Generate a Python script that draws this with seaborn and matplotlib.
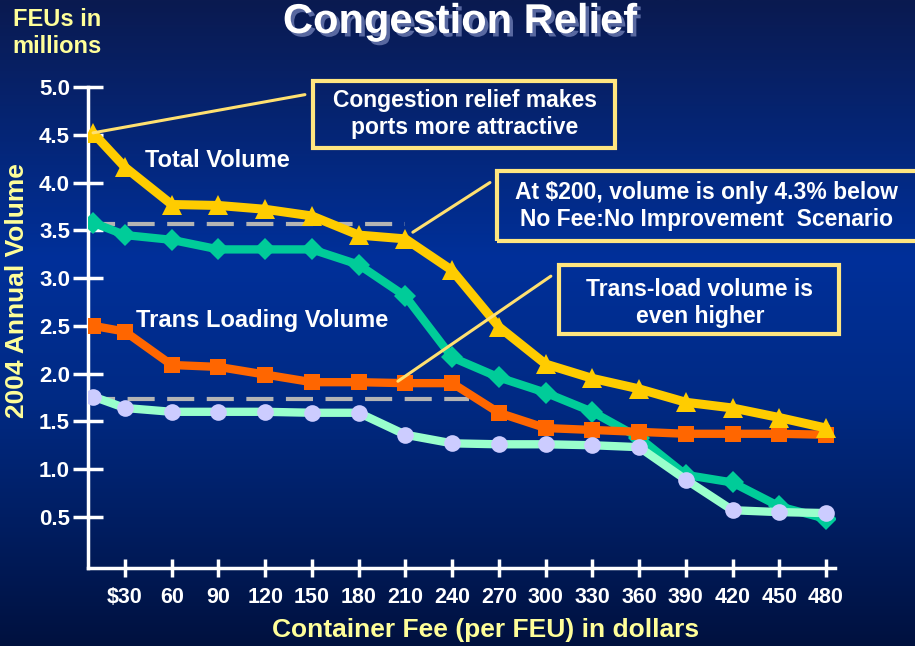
import numpy as np
import pandas as pd
import matplotlib
matplotlib.use("Agg")
import matplotlib.pyplot as plt
import seaborn as sns
from matplotlib.colors import LinearSegmentedColormap
from matplotlib.patches import Rectangle
import matplotlib.patheffects as pe

# ---------------- data ----------------
fees = [9.5, 30, 60, 90, 120, 150, 180, 210, 240, 270, 300, 330, 360, 390, 420, 450, 480]
total_volume = [4.52, 4.16, 3.77, 3.76, 3.72, 3.65, 3.45, 3.41, 3.08, 2.49, 2.10, 1.95, 1.84,
                1.70, 1.64, 1.54, 1.43]
total_no_improve = [3.58, 3.45, 3.40, 3.30, 3.30, 3.30, 3.14, 2.81, 2.17, 1.96, 1.80, 1.60, 1.33,
                    0.94, 0.86, 0.61, 0.48]
trans_volume = [2.50, 2.44, 2.09, 2.07, 1.99, 1.91, 1.91, 1.90, 1.90, 1.59, 1.43, 1.41, 1.39,
                1.37, 1.37, 1.37, 1.36]
trans_no_improve = [1.76, 1.64, 1.60, 1.60, 1.60, 1.59, 1.59, 1.36, 1.27, 1.26, 1.26, 1.25, 1.23,
                    0.89, 0.57, 0.55, 0.54]
baseline_total = 3.57
baseline_trans = 1.73
baseline_total_end = 210
baseline_trans_end = 251
x_ticks = [30, 60, 90, 120, 150, 180, 210, 240, 270, 300, 330, 360, 390, 420, 450, 480]
x_tick_labels = ["$30", "60", "90", "120", "150", "180", "210", "240", "270", "300", "330",
                 "360", "390", "420", "450", "480"]
y_ticks = [0.5, 1.0, 1.5, 2.0, 2.5, 3.0, 3.5, 4.0, 4.5, 5.0]
y_tick_labels = ["0.5", "1.0", "1.5", "2.0", "2.5", "3.0", "3.5", "4.0", "4.5", "5.0"]

# ---------------- style ----------------
sns.set_style("white")
plt.rcParams["font.family"] = ["Liberation Sans", "DejaVu Sans"]
plt.rcParams["font.weight"] = "bold"

W, H = 915, 646
fig = plt.figure(figsize=(W / 100, H / 100), dpi=100)

# gradient background
bg = fig.add_axes([0, 0, 1, 1], zorder=-10)
cmap = LinearSegmentedColormap.from_list(
    "bg", [(0.0, "#0a1a50"), (0.40, "#00309a"), (0.62, "#002a84"), (1.0, "#00113f")])
grad = np.linspace(0, 1, 256).reshape(-1, 1)
bg.imshow(grad, aspect="auto", cmap=cmap, extent=[0, 1, 0, 1], origin="upper")
bg.set_axis_off()

x0, x1, yt, yb = 88, 835, 87, 568
ax = fig.add_axes([x0 / W, 1 - yb / H, (x1 - x0) / W, (yb - yt) / H])
ax.patch.set_alpha(0)

df = pd.DataFrame({"fee": fees, "total": total_volume, "total_ni": total_no_improve,
                   "trans": trans_volume, "trans_ni": trans_no_improve})

# baselines (dashed)
ax.plot([6.25, baseline_total_end], [baseline_total] * 2, color="#b4b4b4", lw=3,
        dashes=(6.5, 3), zorder=2, dash_capstyle="butt")
ax.plot([6.25, baseline_trans_end], [baseline_trans] * 2, color="#b4b4b4", lw=3,
        dashes=(6.5, 3), zorder=2, dash_capstyle="butt")

sns.lineplot(data=df, x="fee", y="total_ni", ax=ax, color="#00cc99", lw=6, marker="D",
             markersize=11, markeredgewidth=0, zorder=3)
sns.lineplot(data=df, x="fee", y="trans", ax=ax, color="#ff6600", lw=6, marker="s",
             markersize=12, markeredgewidth=0, zorder=4)
sns.lineplot(data=df, x="fee", y="trans_ni", ax=ax, color="#99ffcc", lw=6, marker="o",
             markersize=12, markerfacecolor="#ccccff", markeredgewidth=0, zorder=5)
sns.lineplot(data=df, x="fee", y="total", ax=ax, color="#ffcc00", lw=6.5, marker="^",
             markersize=14, markeredgewidth=0, zorder=6)

ax.set_xlim(6.25, 485.8)
ax.set_ylim(-0.035, 5.0)
for s in ["top", "right"]:
    ax.spines[s].set_visible(False)
for s in ["left", "bottom"]:
    ax.spines[s].set_color("white")
    ax.spines[s].set_linewidth(2.5)
ax.set_xticks(x_ticks)
ax.set_xticklabels(x_tick_labels)
ax.set_yticks(y_ticks)
ax.set_yticklabels(y_tick_labels)
ax.tick_params(axis="y", left=True, direction="inout", length=22, width=2.5, colors="white",
               labelsize=16, pad=2)
ax.tick_params(axis="x", bottom=True, direction="inout", length=13, width=2.5, colors="white",
               labelsize=15.5, pad=7)
for t in ax.get_xticklabels() + ax.get_yticklabels():
    t.set_fontweight("bold")

ax.set_xlabel("Container Fee (per FEU) in dollars", color="#ffff99", fontsize=19,
              fontweight="bold")
ax.xaxis.set_label_coords((486 - x0) / (x1 - x0), (yb - 630) / (yb - yt))
ax.xaxis.label.set_va("center")
ax.set_ylabel("2004 Annual Volume", color="#ffff99", fontsize=19, fontweight="bold")
ax.yaxis.set_label_coords((17 - x0) / (x1 - x0), (yb - 291) / (yb - yt))
ax.yaxis.label.set_va("center")

# title & corner label
fig.text(460 / W, 1 - 22 / H, "Congestion Relief", color="white", fontsize=30,
         fontweight="bold", ha="center", va="center",
         path_effects=[pe.withSimplePatchShadow(offset=(2.5, -2.5), shadow_rgbFace="#5868a0",
                                                alpha=1.0)])
fig.text(57 / W, 1 - 33 / H, "FEUs in\nmillions", color="#ffff99", fontsize=17,
         fontweight="bold", ha="center", va="center", linespacing=1.2)

# series labels
ax.text(42.8, 4.23, "Total Volume", color="white", fontsize=17, fontweight="bold",
        ha="left", va="center")
ax.text(37, 2.56, "Trans Loading Volume", color="white", fontsize=17, fontweight="bold",
        ha="left", va="center")

# callout boxes
box_col = "#ffe680"
boxes = [
    ((313, 81, 615, 148), (465, 114), "Congestion relief makes\nports more attractive"),
    ((497, 171, 918, 241), (706, 206), "At $200, volume is only 4.3% below\nNo Fee:No Improvement  Scenario"),
    ((559, 265, 839, 334), (700, 303), "Trans-load volume is\neven higher"),
]
for (bx0, by0, bx1, by1), (tx, ty), txt in boxes:
    fig.add_artist(Rectangle((bx0 / W, 1 - by1 / H), (bx1 - bx0) / W, (by1 - by0) / H,
                             transform=fig.transFigure, fill=False, ec=box_col, lw=3))
    fig.text(tx / W, 1 - ty / H, txt, color="white", fontsize=16.5, fontweight="bold",
             ha="center", va="center", linespacing=1.25)

# connector lines
line_col = "#ffe070"
for (xa, ya), (xb, yb2) in [((9.5, 4.52), (145.5, 4.92)), ((214.8, 3.48), (264.3, 4.0)),
                            ((205.2, 1.92), (303.4, 3.02))]:
    ax.plot([xa, xb], [ya, yb2], color=line_col, lw=2.2, zorder=7, clip_on=False)

fig.savefig("out.png", dpi=100)
